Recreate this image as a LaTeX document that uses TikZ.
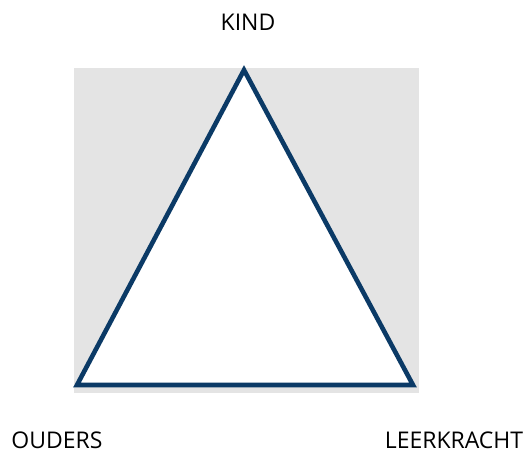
\documentclass[tikz,border=0pt]{standalone}
\usepackage{fontspec}
\setmainfont{Open Sans}
\definecolor{tri}{HTML}{0B3A66}
\definecolor{bg}{HTML}{E4E4E4}
\begin{document}
\begin{tikzpicture}[x=1pt,y=-1pt,
  lbl/.style={font=\fontsize{23}{26}\selectfont, text=black, inner sep=0pt, anchor=center},
  edge/.style={draw=tri, line width=4.6pt, line join=miter}]
\useasboundingbox (0,0) rectangle (531,450);
\fill[bg] (74,68) rectangle (419,393);
\coordinate (A) at (244,70);
\coordinate (B) at (77,385);
\coordinate (C) at (413,385);
\filldraw[edge, fill=white] (A) -- (B) -- (C) -- cycle;
\node[lbl] (kind) at (248,22) {KIND};
\node[lbl] (ouders) at (57,440) {OUDERS};
\node[lbl] (leer) at (454,440) {LEERKRACHT};
\end{tikzpicture}
\end{document}
